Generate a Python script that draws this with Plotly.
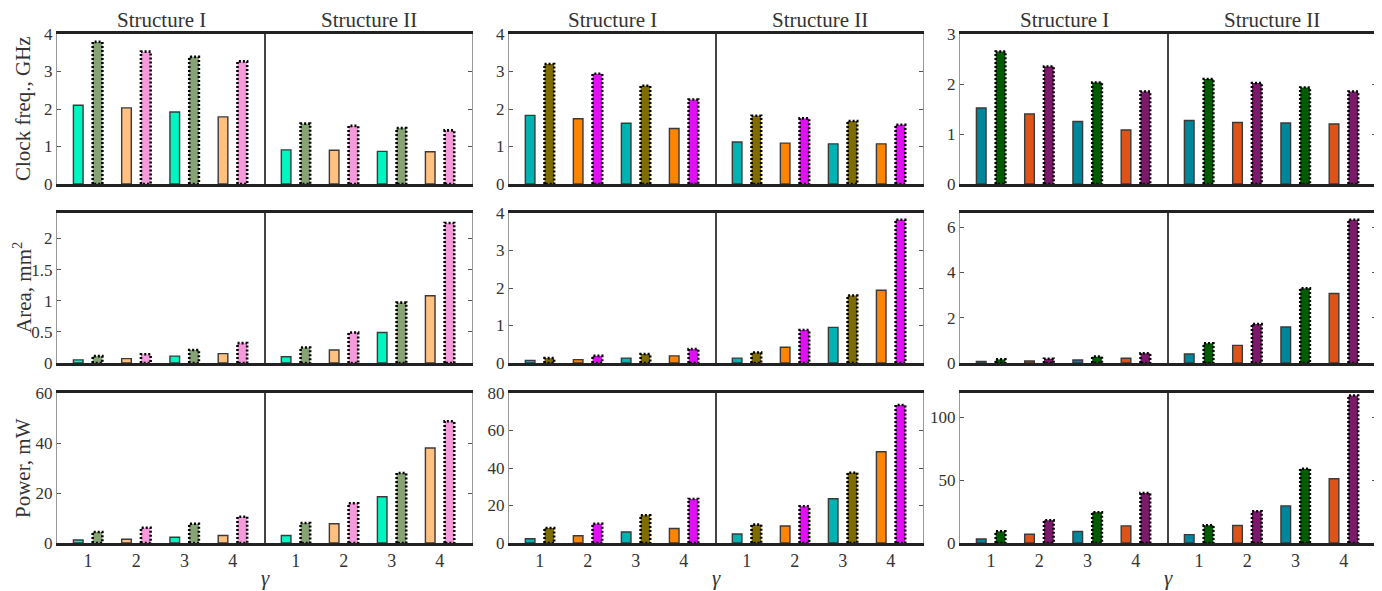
import plotly.graph_objects as go

# The page body adds an 8px offset; lay out in page pixels and convert.
OFF = 8
W, H = 1382 - OFF, 591 - OFF
FONT = "Liberation Serif, Times New Roman, serif"
TXT = "#333333"

gamma = [1, 2, 3, 4]
gamma_labels = ["1", "2", "3", "4"]
structures = ["Structure I", "Structure II"]
row_titles = ["Clock freq., GHz", "Area, mm<sup>2</sup>", "Power, mW"]

# ---- Left group ----
L_clk_I_solid = [2.10, 2.03, 1.92, 1.79]
L_clk_I_dot = [3.79, 3.53, 3.39, 3.27]
L_clk_II_solid = [0.91, 0.90, 0.87, 0.86]
L_clk_II_dot = [1.61, 1.55, 1.49, 1.43]
L_area_I_solid = [0.05, 0.07, 0.11, 0.15]
L_area_I_dot = [0.11, 0.14, 0.21, 0.32]
L_area_II_solid = [0.10, 0.21, 0.49, 1.08]
L_area_II_dot = [0.25, 0.49, 0.97, 2.25]
L_pow_I_solid = [1.2, 1.5, 2.3, 3.0]
L_pow_I_dot = [4.4, 6.1, 7.7, 10.5]
L_pow_II_solid = [3.0, 7.7, 18.5, 38.0]
L_pow_II_dot = [8.0, 15.9, 28.0, 48.7]

# ---- Middle group ----
M_clk_I_solid = [1.83, 1.74, 1.62, 1.48]
M_clk_I_dot = [3.20, 2.94, 2.62, 2.25]
M_clk_II_solid = [1.12, 1.09, 1.07, 1.07]
M_clk_II_dot = [1.82, 1.75, 1.68, 1.58]
M_area_I_solid = [0.07, 0.09, 0.13, 0.19]
M_area_I_dot = [0.13, 0.19, 0.24, 0.37]
M_area_II_solid = [0.13, 0.42, 0.95, 1.94]
M_area_II_dot = [0.28, 0.88, 1.80, 3.82]
M_pow_I_solid = [2.3, 3.9, 5.9, 7.7]
M_pow_I_dot = [8.0, 10.3, 14.8, 23.5]
M_pow_II_solid = [4.8, 9.1, 23.6, 48.7]
M_pow_II_dot = [9.8, 19.6, 37.5, 73.6]

# ---- Right group ----
R_clk_I_solid = [1.52, 1.40, 1.25, 1.08]
R_clk_I_dot = [2.65, 2.35, 2.03, 1.85]
R_clk_II_solid = [1.27, 1.23, 1.22, 1.20]
R_clk_II_dot = [2.10, 2.02, 1.93, 1.85]
R_area_I_solid = [0.07, 0.09, 0.13, 0.21]
R_area_I_dot = [0.16, 0.19, 0.28, 0.43]
R_area_II_solid = [0.40, 0.78, 1.59, 3.07]
R_area_II_dot = [0.87, 1.72, 3.30, 6.33]
R_pow_I_solid = [3.2, 6.9, 9.1, 13.6]
R_pow_I_dot = [9.3, 18.1, 24.5, 39.7]
R_pow_II_solid = [6.7, 13.9, 29.5, 51.1]
R_pow_II_dot = [14.1, 25.3, 59.0, 117.3]

# y ticks per group / row
L_ticks = [[0, 1, 2, 3, 4], [0, 0.5, 1, 1.5, 2], [0, 20, 40, 60]]
M_ticks = [[0, 1, 2, 3, 4], [0, 1, 2, 3, 4], [0, 20, 40, 60, 80]]
R_ticks = [[0, 1, 2, 3], [0, 2, 4, 6], [0, 50, 100]]
L_ranges = [[0, 4], [0, 2.41], [0, 60]]
M_ranges = [[0, 4], [0, 4], [0, 80]]
R_ranges = [[0, 3], [0, 6.63], [0, 119.3]]

L_colors = ["#00F5C0", "#FFC080", "#88A373", "#F59BDB"]
M_colors = ["#00B3B3", "#FF8500", "#7F6C00", "#E010F5"]
R_colors = ["#00869A", "#DC5418", "#005C00", "#7B1A6B"]

groups = [
    dict(data=[[(L_clk_I_solid, L_clk_I_dot), (L_clk_II_solid, L_clk_II_dot)],
               [(L_area_I_solid, L_area_I_dot), (L_area_II_solid, L_area_II_dot)],
               [(L_pow_I_solid, L_pow_I_dot), (L_pow_II_solid, L_pow_II_dot)]],
         ticks=L_ticks, ranges=L_ranges, colors=L_colors, px=(57, 265, 472)),
    dict(data=[[(M_clk_I_solid, M_clk_I_dot), (M_clk_II_solid, M_clk_II_dot)],
               [(M_area_I_solid, M_area_I_dot), (M_area_II_solid, M_area_II_dot)],
               [(M_pow_I_solid, M_pow_I_dot), (M_pow_II_solid, M_pow_II_dot)]],
         ticks=M_ticks, ranges=M_ranges, colors=M_colors, px=(509, 716, 923)),
    dict(data=[[(R_clk_I_solid, R_clk_I_dot), (R_clk_II_solid, R_clk_II_dot)],
               [(R_area_I_solid, R_area_I_dot), (R_area_II_solid, R_area_II_dot)],
               [(R_pow_I_solid, R_pow_I_dot), (R_pow_II_solid, R_pow_II_dot)]],
         ticks=R_ticks, ranges=R_ranges, colors=R_colors, px=(960, 1168, 1376)),
]
rows_px = [(34, 184), (213, 363), (393, 543)]

BAR_W = 0.2
XRANGE = [0.36, 4.67]


def px_x(p):
    return (p - OFF) / W


def px_y(p):
    return 1 - (p - OFF) / H


def fmt(v):
    return ("%g" % v)


fig = go.Figure()
layout = {}
shapes = []
annotations = []
k = 0
for gi, g in enumerate(groups):
    x0p, xmp, x1p = g["px"]
    cA, cB, dA, dB = g["colors"]
    solid_cols = [cA, cB, cA, cB]
    dot_cols = [dA, dB, dA, dB]
    for ri in range(3):
        ytop, ybot = rows_px[ri]
        ydom = [px_y(ybot), px_y(ytop)]
        for si in range(2):
            k += 1
            xs = "x" if k == 1 else "x%d" % k
            ys = "y" if k == 1 else "y%d" % k
            xdom = [px_x(x0p), px_x(xmp)] if si == 0 else [px_x(xmp), px_x(x1p)]
            solid, dotted = g["data"][ri][si]
            fig.add_trace(go.Bar(
                x=gamma, y=solid, width=BAR_W, offset=-0.3,
                marker=dict(color=solid_cols, line=dict(color="#3a3a3a", width=1.4)),
                xaxis=xs, yaxis=ys, showlegend=False, hoverinfo="skip"))
            fig.add_trace(go.Bar(
                x=gamma, y=dotted, width=BAR_W, offset=0.1,
                marker=dict(color=dot_cols, line=dict(width=0)),
                xaxis=xs, yaxis=ys, showlegend=False, hoverinfo="skip"))
            # dotted outlines from the same data
            ox, oy = [], []
            for gv, v in zip(gamma, dotted):
                a, b = gv + 0.1, gv + 0.3
                ox += [a, a, b, b, a, None]
                oy += [0, v, v, 0, 0, None]
            fig.add_trace(go.Scatter(
                x=ox, y=oy, mode="lines",
                line=dict(color="black", width=2.6, dash="2px,2px"),
                xaxis=xs, yaxis=ys, showlegend=False, hoverinfo="skip"))

            xkey = "xaxis" if k == 1 else "xaxis%d" % k
            ykey = "yaxis" if k == 1 else "yaxis%d" % k
            layout[xkey] = dict(
                domain=xdom, anchor=ys, range=XRANGE, automargin=False,
                tickmode="array", tickvals=gamma, ticktext=gamma_labels,
                showticklabels=(ri == 2), ticks="",
                showline=True, mirror=True, linecolor="#222222", linewidth=2.5,
                showgrid=False, zeroline=False, fixedrange=True,
                tickfont=dict(family=FONT, size=18, color=TXT))
            layout[ykey] = dict(
                domain=ydom, anchor=xs, range=g["ranges"][ri], automargin=False,
                tickmode="array", tickvals=g["ticks"][ri],
                ticktext=[fmt(v) for v in g["ticks"][ri]],
                showticklabels=(si == 0), side=("left" if si == 0 else "right"),
                ticks="inside", ticklen=4, tickcolor="#555555", tickwidth=1,
                showline=True, mirror=True, linecolor="#999999", linewidth=1,
                showgrid=False, zeroline=False, fixedrange=True,
                tickfont=dict(family=FONT, size=17, color=TXT))
            if ri == 0:
                annotations.append(dict(
                    x=(xdom[0] + xdom[1]) / 2, y=px_y(20), xref="paper", yref="paper",
                    text=structures[si], showarrow=False, xanchor="center", yanchor="middle",
                    font=dict(family=FONT, size=21, color=TXT)))
        # divider between Structure I and II
        shapes.append(dict(type="line", xref="paper", yref="paper",
                           x0=px_x(xmp), x1=px_x(xmp), y0=ydom[0], y1=ydom[1],
                           line=dict(color="#444444", width=2)))
        if gi == 0:
            annotations.append(dict(
                x=px_x(23), y=px_y((ytop + ybot) / 2), xref="paper", yref="paper",
                text=row_titles[ri], showarrow=False, textangle=-90,
                xanchor="center", yanchor="middle",
                font=dict(family=FONT, size=21, color=TXT)))
    annotations.append(dict(
        x=px_x(xmp), y=px_y(578), xref="paper", yref="paper", text="<i>γ</i>",
        showarrow=False, xanchor="center", yanchor="middle",
        font=dict(family=FONT, size=21, color=TXT)))

fig.update_layout(
    width=W, height=H, margin=dict(l=0, r=0, t=0, b=0, autoexpand=False),
    paper_bgcolor="white", plot_bgcolor="white",
    barmode="overlay", shapes=shapes, annotations=annotations,
    **layout)

fig.write_html("out.html")
